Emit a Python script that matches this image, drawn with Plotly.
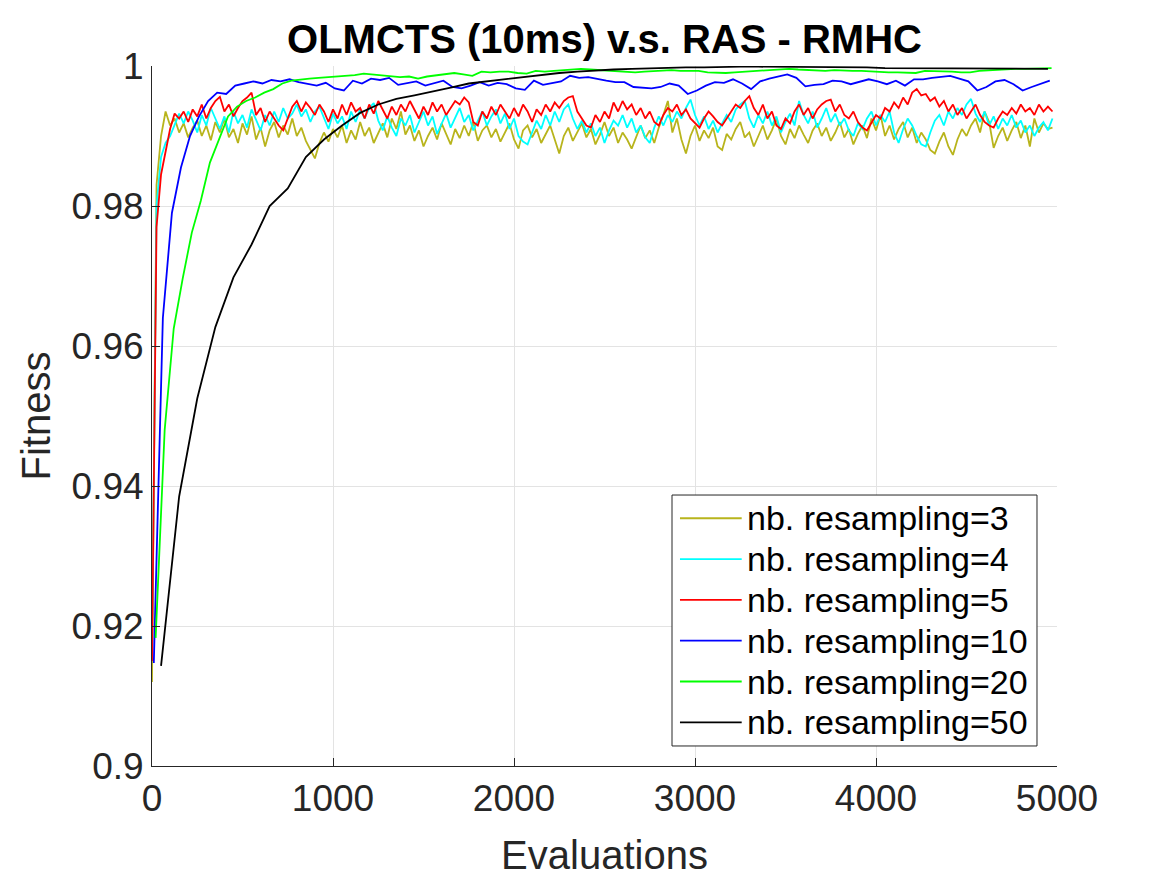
import plotly.graph_objects as go

# evaluations (x) for each run
x_r3 = list(range(0, 5000, 25))
x_r4 = list(range(0, 5000, 25))
x_r5 = list(range(0, 5000, 25))
x_r10 = list(range(10, 5000, 50))
x_r20 = list(range(20, 5000, 50))
x_r50 = list(range(50, 5000, 100))

# fitness
fit_r3 = [
    0.9120, 0.9830, 0.9900, 0.9935, 0.9915, 0.9925, 0.9905, 0.9918, 0.9898, 0.9912,
    0.9922, 0.9900, 0.9915, 0.9894, 0.9920, 0.9905, 0.9925, 0.9898, 0.9910, 0.9890,
    0.9918, 0.9902, 0.9928, 0.9895, 0.9912, 0.9885, 0.9908, 0.9920, 0.9898, 0.9915,
    0.9902, 0.9925, 0.9900, 0.9912, 0.9893, 0.9880, 0.9868, 0.9890, 0.9905, 0.9892,
    0.9910, 0.9898, 0.9915, 0.9890, 0.9908, 0.9895, 0.9920, 0.9900, 0.9912, 0.9890,
    0.9905, 0.9918, 0.9898, 0.9925, 0.9910, 0.9935, 0.9902, 0.9915, 0.9893, 0.9908,
    0.9885, 0.9900, 0.9912, 0.9895, 0.9918, 0.9903, 0.9888, 0.9910, 0.9897, 0.9915,
    0.9900, 0.9920, 0.9893, 0.9908, 0.9915, 0.9898, 0.9910, 0.9892, 0.9905, 0.9918,
    0.9895, 0.9882, 0.9908, 0.9915, 0.9898, 0.9910, 0.9890, 0.9903, 0.9915, 0.9895,
    0.9875, 0.9900, 0.9912, 0.9893, 0.9905, 0.9918, 0.9898, 0.9910, 0.9888, 0.9902,
    0.9920, 0.9900, 0.9912, 0.9890, 0.9905, 0.9895, 0.9882, 0.9900, 0.9915, 0.9897,
    0.9908, 0.9890, 0.9912, 0.9930, 0.9950, 0.9905, 0.9925, 0.9895, 0.9875, 0.9900,
    0.9915, 0.9893, 0.9908, 0.9897, 0.9912, 0.9885, 0.9880, 0.9903, 0.9895, 0.9910,
    0.9920, 0.9898, 0.9905, 0.9885, 0.9900, 0.9915, 0.9895, 0.9908, 0.9925, 0.9900,
    0.9888, 0.9910, 0.9897, 0.9915, 0.9902, 0.9890, 0.9908, 0.9918, 0.9900, 0.9912,
    0.9893, 0.9905, 0.9920, 0.9898, 0.9910, 0.9888, 0.9903, 0.9915, 0.9897, 0.9925,
    0.9908, 0.9930, 0.9900, 0.9915, 0.9895, 0.9910, 0.9920, 0.9898, 0.9912, 0.9890,
    0.9905, 0.9895, 0.9880, 0.9875, 0.9892, 0.9905, 0.9885, 0.9873, 0.9895, 0.9910,
    0.9900, 0.9915, 0.9925, 0.9905, 0.9935, 0.9920, 0.9883, 0.9900, 0.9912, 0.9893,
    0.9908, 0.9920, 0.9897, 0.9915, 0.9885, 0.9925, 0.9905, 0.9918, 0.9910, 0.9912,
]

fit_r4 = [
    0.9150, 0.9800, 0.9870, 0.9890, 0.9900, 0.9915, 0.9932, 0.9918, 0.9935, 0.9922,
    0.9905, 0.9930, 0.9915, 0.9940, 0.9925, 0.9910, 0.9928, 0.9905, 0.9935, 0.9918,
    0.9930, 0.9912, 0.9938, 0.9922, 0.9908, 0.9930, 0.9915, 0.9935, 0.9920, 0.9940,
    0.9925, 0.9932, 0.9945, 0.9928, 0.9938, 0.9920, 0.9935, 0.9942, 0.9925, 0.9910,
    0.9932, 0.9918, 0.9928, 0.9910, 0.9935, 0.9920, 0.9938, 0.9925, 0.9940, 0.9947,
    0.9922, 0.9908, 0.9928, 0.9912, 0.9900, 0.9925, 0.9915, 0.9930, 0.9905, 0.9920,
    0.9935, 0.9915, 0.9928, 0.9903, 0.9918, 0.9932, 0.9912, 0.9925, 0.9940, 0.9920,
    0.9930, 0.9908, 0.9922, 0.9935, 0.9915, 0.9928, 0.9938, 0.9918, 0.9932, 0.9910,
    0.9925, 0.9900, 0.9892, 0.9888, 0.9905, 0.9922, 0.9910, 0.9930, 0.9915, 0.9935,
    0.9920, 0.9938, 0.9945, 0.9925, 0.9910, 0.9922, 0.9905, 0.9918, 0.9900, 0.9912,
    0.9890, 0.9908, 0.9922, 0.9915, 0.9930, 0.9912, 0.9925, 0.9905, 0.9915, 0.9898,
    0.9890, 0.9912, 0.9928, 0.9915, 0.9930, 0.9920, 0.9935, 0.9925, 0.9940, 0.9952,
    0.9930, 0.9915, 0.9928, 0.9910, 0.9922, 0.9905, 0.9918, 0.9930, 0.9920, 0.9938,
    0.9945, 0.9950, 0.9925, 0.9912, 0.9930, 0.9918, 0.9935, 0.9915, 0.9928, 0.9905,
    0.9920, 0.9932, 0.9915, 0.9950, 0.9930, 0.9918, 0.9935, 0.9912, 0.9925, 0.9940,
    0.9920, 0.9932, 0.9915, 0.9925, 0.9908, 0.9900, 0.9918, 0.9910, 0.9925, 0.9935,
    0.9915, 0.9930, 0.9920, 0.9935, 0.9905, 0.9890, 0.9910, 0.9925, 0.9915, 0.9900,
    0.9888, 0.9885, 0.9905, 0.9922, 0.9930, 0.9915, 0.9935, 0.9925, 0.9940, 0.9930,
    0.9945, 0.9953, 0.9932, 0.9920, 0.9935, 0.9915, 0.9928, 0.9910, 0.9925, 0.9915,
    0.9930, 0.9912, 0.9922, 0.9905, 0.9915, 0.9900, 0.9912, 0.9920, 0.9908, 0.9925,
]

fit_r5 = [
    0.9150, 0.9770, 0.9845, 0.9875, 0.9910, 0.9932, 0.9925, 0.9935, 0.9920, 0.9938,
    0.9928, 0.9945, 0.9925, 0.9940, 0.9950, 0.9956, 0.9935, 0.9945, 0.9928, 0.9940,
    0.9950, 0.9955, 0.9962, 0.9930, 0.9940, 0.9920, 0.9935, 0.9925, 0.9915, 0.9908,
    0.9925, 0.9942, 0.9950, 0.9935, 0.9948, 0.9940, 0.9930, 0.9945, 0.9935, 0.9920,
    0.9938, 0.9925, 0.9945, 0.9930, 0.9948, 0.9935, 0.9940, 0.9925, 0.9945, 0.9932,
    0.9950, 0.9938, 0.9925, 0.9942, 0.9930, 0.9945, 0.9935, 0.9950, 0.9938, 0.9925,
    0.9942, 0.9930, 0.9948, 0.9935, 0.9945, 0.9930, 0.9940, 0.9950, 0.9945, 0.9955,
    0.9948, 0.9920, 0.9915, 0.9935, 0.9925, 0.9942, 0.9930, 0.9945, 0.9935, 0.9925,
    0.9940, 0.9928, 0.9945, 0.9935, 0.9920, 0.9938, 0.9930, 0.9945, 0.9935, 0.9948,
    0.9940, 0.9950, 0.9955, 0.9957, 0.9935, 0.9925, 0.9915, 0.9912, 0.9930, 0.9920,
    0.9935, 0.9925, 0.9948, 0.9935, 0.9950, 0.9938, 0.9945, 0.9930, 0.9940, 0.9925,
    0.9935, 0.9920, 0.9915, 0.9930, 0.9940, 0.9935, 0.9945, 0.9930, 0.9938, 0.9925,
    0.9918, 0.9912, 0.9925, 0.9935, 0.9928, 0.9920, 0.9915, 0.9925, 0.9935, 0.9945,
    0.9940, 0.9950, 0.9957, 0.9940, 0.9930, 0.9945, 0.9925, 0.9935, 0.9915, 0.9910,
    0.9925, 0.9918, 0.9935, 0.9945, 0.9930, 0.9940, 0.9925, 0.9938, 0.9945, 0.9950,
    0.9952, 0.9935, 0.9945, 0.9930, 0.9925, 0.9935, 0.9920, 0.9912, 0.9908, 0.9920,
    0.9930, 0.9925, 0.9940, 0.9935, 0.9948, 0.9940, 0.9955, 0.9945, 0.9962, 0.9967,
    0.9958, 0.9960, 0.9950, 0.9955, 0.9942, 0.9950, 0.9935, 0.9945, 0.9930, 0.9940,
    0.9925, 0.9935, 0.9945, 0.9930, 0.9920, 0.9915, 0.9912, 0.9925, 0.9935, 0.9930,
    0.9940, 0.9932, 0.9945, 0.9935, 0.9940, 0.9930, 0.9945, 0.9935, 0.9942, 0.9935,
]

fit_r10 = [
    0.9147, 0.9640, 0.9790, 0.9855, 0.9900, 0.9928, 0.9950, 0.9962, 0.9960, 0.9972,
    0.9975, 0.9978, 0.9975, 0.9980, 0.9978, 0.9981, 0.9977, 0.9975, 0.9972, 0.9976,
    0.9968, 0.9965, 0.9979, 0.9975, 0.9982, 0.9980, 0.9983, 0.9973, 0.9976, 0.9978,
    0.9972, 0.9975, 0.9979, 0.9970, 0.9968, 0.9972, 0.9977, 0.9972, 0.9976, 0.9974,
    0.9968, 0.9966, 0.9979, 0.9973, 0.9976, 0.9978, 0.9986, 0.9983, 0.9984, 0.9981,
    0.9979, 0.9977, 0.9977, 0.9970, 0.9969, 0.9968, 0.9970, 0.9975, 0.9972, 0.9960,
    0.9965, 0.9972, 0.9977, 0.9976, 0.9981, 0.9975, 0.9967, 0.9978, 0.9982, 0.9985,
    0.9988, 0.9983, 0.9971, 0.9973, 0.9974, 0.9979, 0.9978, 0.9974, 0.9977, 0.9981,
    0.9978, 0.9974, 0.9979, 0.9972, 0.9981, 0.9981, 0.9983, 0.9984, 0.9986, 0.9982,
    0.9978, 0.9965, 0.9970, 0.9978, 0.9980, 0.9974, 0.9965, 0.9970, 0.9974, 0.9979,
]

fit_r20 = [
    0.9183, 0.9480, 0.9625, 0.9697, 0.9762, 0.9808, 0.9862, 0.9895, 0.9928, 0.9942,
    0.9950, 0.9955, 0.9962, 0.9967, 0.9975, 0.9979, 0.9981, 0.9982, 0.9983, 0.9984,
    0.9984, 0.9986, 0.9987, 0.9989, 0.9988, 0.9987, 0.9985, 0.9984, 0.9985, 0.9982,
    0.9985, 0.9987, 0.9988, 0.9990, 0.9988, 0.9986, 0.9992, 0.9991, 0.9992, 0.9992,
    0.9990, 0.9989, 0.9993, 0.9992, 0.9993, 0.9994, 0.9995, 0.9996, 0.9995, 0.9994,
    0.9993, 0.9992, 0.9991, 0.9991, 0.9992, 0.9993, 0.9993, 0.9994, 0.9993, 0.9993,
    0.9993, 0.9991, 0.9990, 0.9990, 0.9991, 0.9992, 0.9993, 0.9994, 0.9995, 0.9996,
    0.9996, 0.9995, 0.9994, 0.9993, 0.9993, 0.9994, 0.9993, 0.9993, 0.9993, 0.9992,
    0.9992, 0.9991, 0.9991, 0.9990, 0.9990, 0.9993, 0.9993, 0.9993, 0.9992, 0.9991,
    0.9991, 0.9993, 0.9994, 0.9995, 0.9995, 0.9996, 0.9996, 0.9996, 0.9996, 0.9997,
]

fit_r50 = [
    0.9143, 0.9385, 0.9525, 0.9627, 0.9698, 0.9745, 0.9800, 0.9825, 0.9870, 0.9895,
    0.9915, 0.9933, 0.9945, 0.9953, 0.9958, 0.9963, 0.9969, 0.9975, 0.9978, 0.9982,
    0.9985, 0.9988, 0.9990, 0.9992, 0.9994, 0.9995, 0.9996, 0.9997, 0.9997, 0.9998,
    0.9998, 0.9999, 0.9999, 0.9999, 0.9999, 0.9999, 0.9998, 0.9998, 0.9998, 0.9998,
    0.9997, 0.9997, 0.9997, 0.9997, 0.9997, 0.9997, 0.9997, 0.9997, 0.9996, 0.9996,
]

names = ["nb. resampling=3", "nb. resampling=4", "nb. resampling=5",
         "nb. resampling=10", "nb. resampling=20", "nb. resampling=50"]
colors = ["#b8b41c", "#00ffff", "#ff0000", "#0000ff", "#00ff00", "#000000"]
xs = [x_r3, x_r4, x_r5, x_r10, x_r20, x_r50]
ys = [fit_r3, fit_r4, fit_r5, fit_r10, fit_r20, fit_r50]

FONT = "Liberation Sans, Arial, Helvetica, sans-serif"

fig = go.Figure()
for x, y, name, c in zip(xs, ys, names, colors):
    fig.add_trace(go.Scatter(x=x, y=y, mode="lines", name=name,
                             line=dict(color=c, width=1.8), showlegend=False))

# MATLAB-like legend box drawn by hand (plotly's own legend rows are too tall)
leg_x0, leg_x1 = 0.5746, 0.9779
leg_y0, leg_y1 = 0.0286, 0.3871
row_top, row_step = 0.3539, 0.0583
shapes = [dict(type="rect", xref="paper", yref="paper",
               x0=leg_x0, x1=leg_x1, y0=leg_y0, y1=leg_y1,
               fillcolor="white", line=dict(color="#262626", width=1),
               layer="above")]
annotations = []
for i, (name, c) in enumerate(zip(names, colors)):
    ry = row_top - i * row_step
    shapes.append(dict(type="line", xref="paper", yref="paper",
                       x0=leg_x0 + 0.0088, x1=leg_x0 + 0.077, y0=ry, y1=ry,
                       line=dict(color=c, width=1.8), layer="above"))
    annotations.append(dict(text=name, xref="paper", yref="paper",
                            x=leg_x0 + 0.081, y=ry, xanchor="left",
                            yanchor="middle", showarrow=False,
                            font=dict(family=FONT, size=34, color="black")))

axis_style = dict(
    showline=True, linecolor="#262626", linewidth=1,
    ticks="inside", ticklen=8, tickcolor="#262626",
    showgrid=True, gridcolor="#e3e3e3", gridwidth=1,
    zeroline=False, mirror=False,
    tickfont=dict(family=FONT, size=37, color="#262626"),
)

# the page adds ~8px body margin, so margins are shifted to compensate
fig.update_layout(
    width=1167, height=875,
    paper_bgcolor="white", plot_bgcolor="white",
    margin=dict(l=144, r=118, t=58, b=117, autoexpand=False),
    title=dict(text="<b>OLMCTS (10ms) v.s. RAS - RMHC</b>",
               font=dict(family=FONT, size=40, color="black"),
               x=0.5, xref="paper", xanchor="center",
               y=1 - 31 / 875, yanchor="middle"),
    xaxis=dict(range=[0, 5000], dtick=1000, tick0=0,
               title=dict(text="Evaluations", standoff=22,
                          font=dict(family=FONT, size=40, color="#262626")),
               **axis_style),
    yaxis=dict(range=[0.9, 1.0], dtick=0.02, tick0=0.9,
               title=dict(text="Fitness", standoff=8,
                          font=dict(family=FONT, size=40, color="#262626")),
               **axis_style),
    shapes=shapes,
    annotations=annotations,
    showlegend=False,
)

fig.write_html("out.html")
